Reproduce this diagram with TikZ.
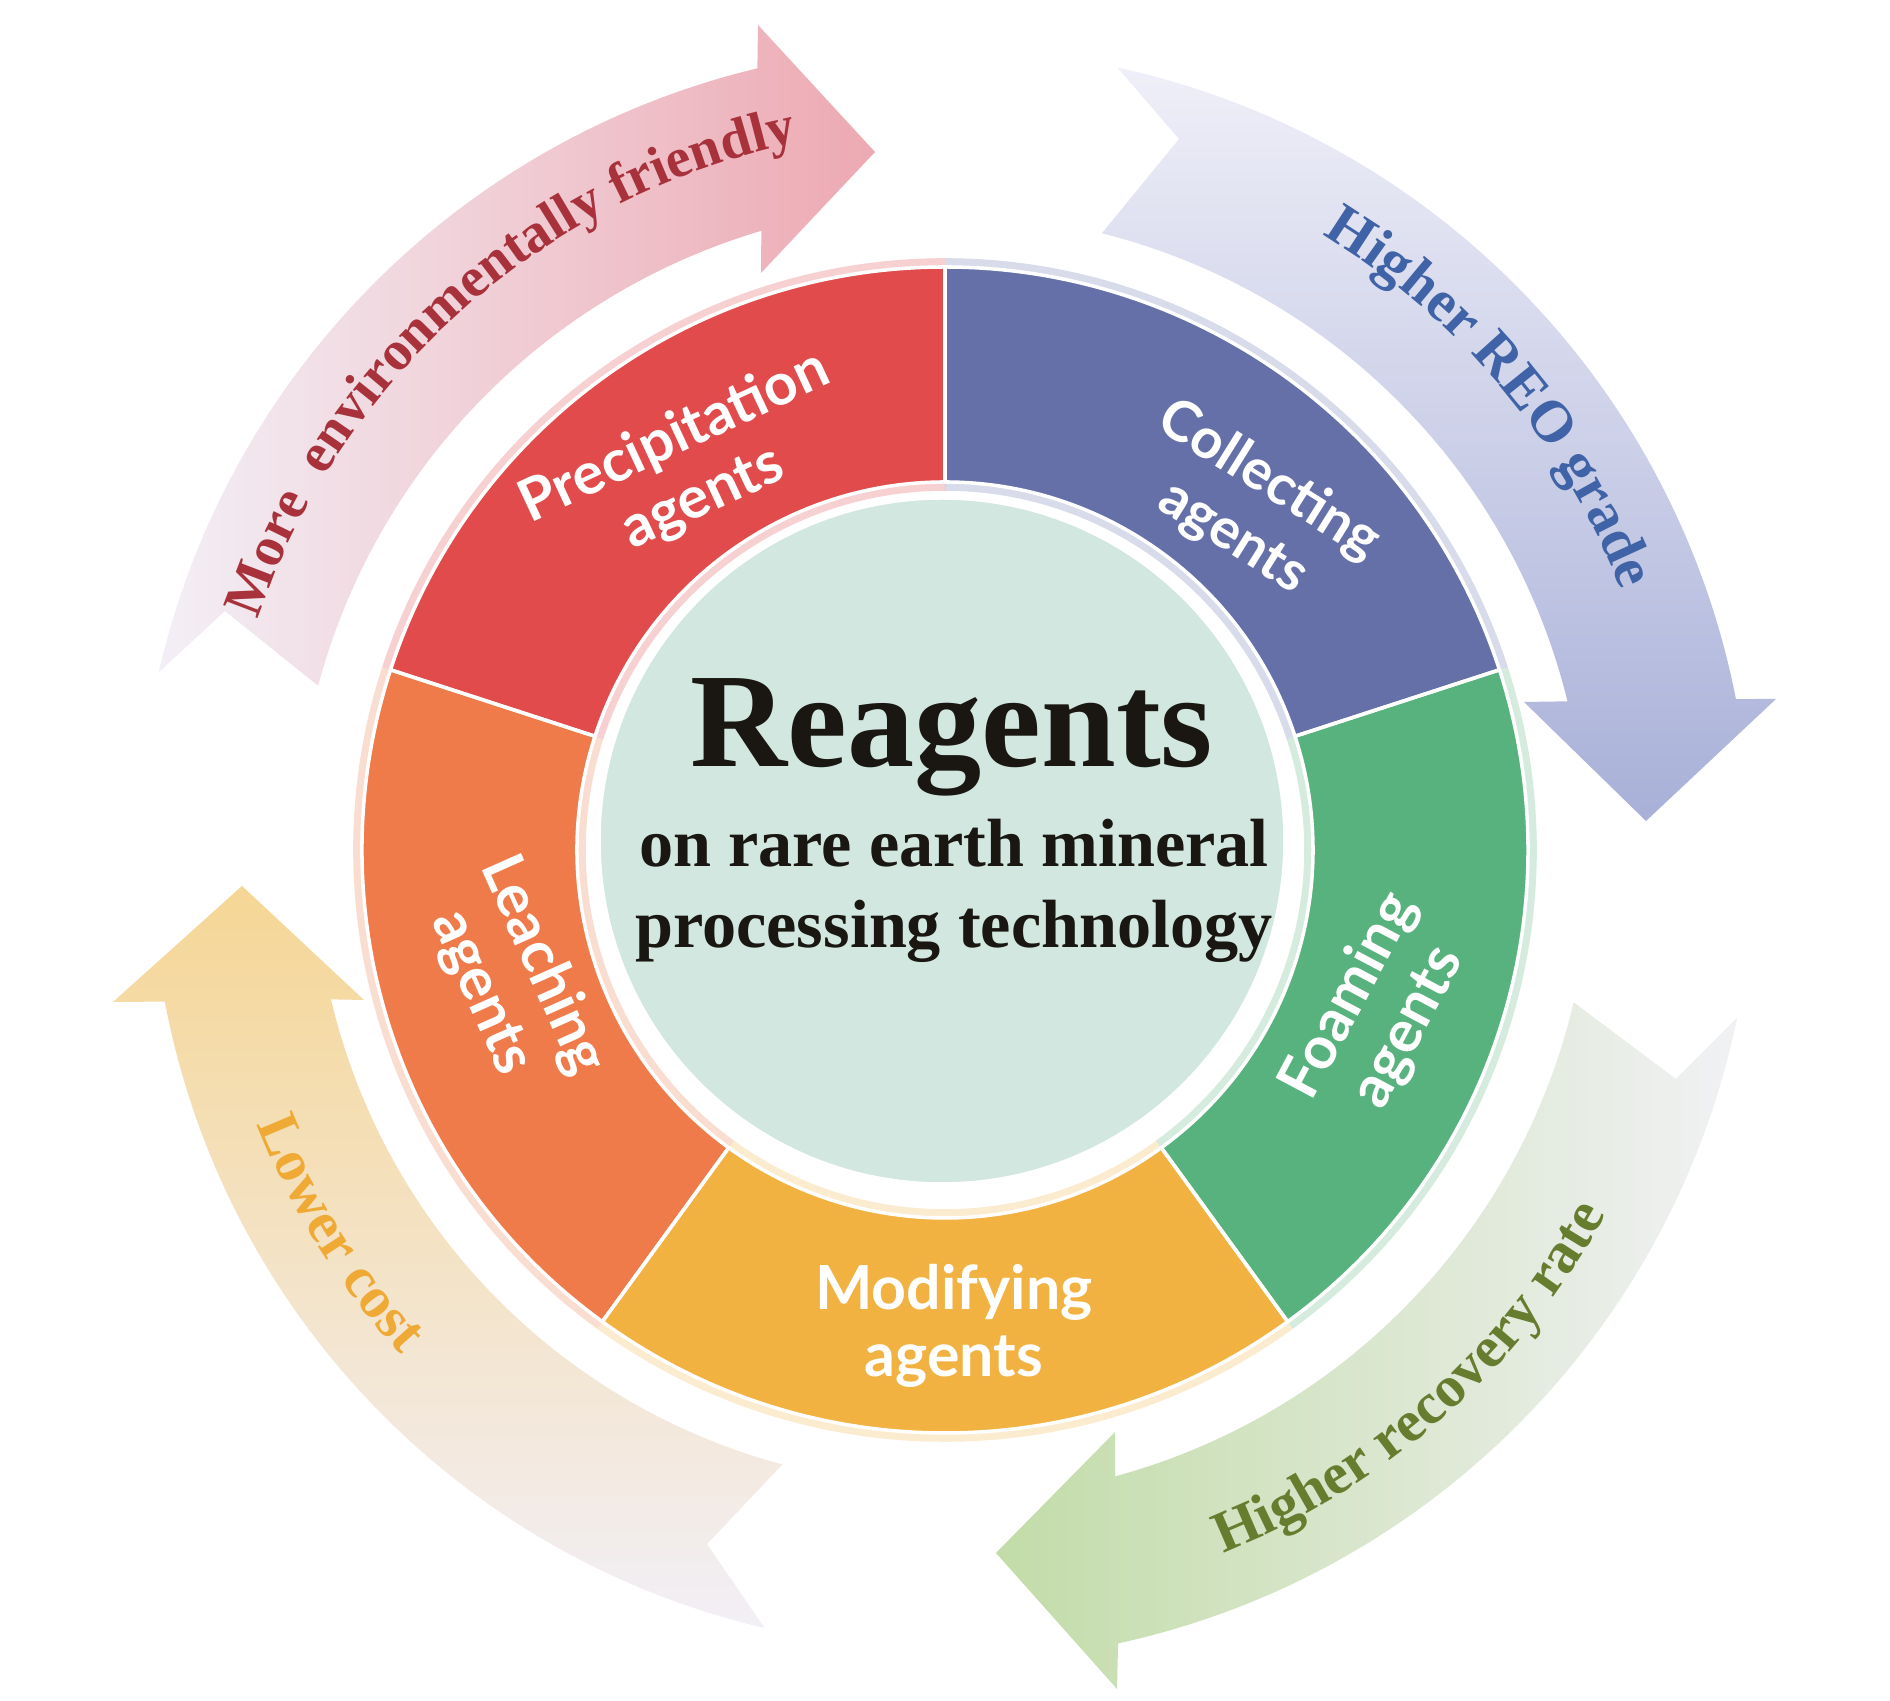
\documentclass[tikz,border=0pt]{standalone}
\usepackage{fontspec}
\setmainfont{Liberation Serif}
\newfontfamily\agentfont{Lato}
\usetikzlibrary{decorations.text}
\definecolor{redW}{HTML}{E14B4B}
\definecolor{blueW}{HTML}{6570A9}
\definecolor{greenW}{HTML}{58B27E}
\definecolor{yellowW}{HTML}{F1B241}
\definecolor{orangeW}{HTML}{EF7A4A}
\definecolor{hubFill}{HTML}{D1E7E0}
\definecolor{hubInk}{HTML}{1A1612}
\definecolor{pinkHead}{HTML}{EDA9B2}
\definecolor{pinkTail}{HTML}{F3EFF6}
\definecolor{pinkText}{HTML}{A8323C}
\definecolor{blueHead}{HTML}{A8B0D8}
\definecolor{blueTail}{HTML}{EFEFF8}
\definecolor{blueText}{HTML}{3F63A6}
\definecolor{greenHead}{HTML}{C2DCA8}
\definecolor{greenTail}{HTML}{F1F1F4}
\definecolor{greenText}{HTML}{667C2E}
\definecolor{yellowHead}{HTML}{F5D695}
\definecolor{yellowTail}{HTML}{F2EFF6}
\definecolor{yellowText}{HTML}{EFA935}
\newcommand{\arrowfont}{\bfseries\fontsize{16.6}{20}\selectfont}
\newcommand{\arrowfontS}{\bfseries\fontsize{15.9}{20}\selectfont}
\pgfkeys{
 /flowArrow/.is family, /flowArrow,
 to/.estore in = \faTO,
 ti/.estore in = \faTI,
 ho/.estore in = \faHO,
 hi/.estore in = \faHI,
 ro/.estore in = \faRO,
 ri/.estore in = \faRI,
 hout/.estore in = \faHout,
 tip/.estore in = \faTip,
 hin/.estore in = \faHin,
 notch/.estore in = \faNotch,
 ch/.estore in = \faCH,
 ct/.estore in = \faCT,
 sa/.estore in = \faSA,
 name/.estore in = \faName,
 default/.style =
  {to=0, ti=0, ho=0, hi=0, ro=800, ri=640, hout={(0,0)}, tip={(0,0)},
   hin={(0,0)}, notch={(0,0)}, ch=black, ct=white, sa=0, name=arrow}
}
\newcommand{\flowArrow}[1][]{
    \pgfkeys{/flowArrow, default, #1}%
    \path \faTip coordinate (\faName_tip) \faNotch coordinate (\faName_notch);
    \shade[top color=\faCH, bottom color=\faCT, shading angle=\faSA]
      (\faTO:\faRO) arc[start angle=\faTO, end angle=\faHO, radius=\faRO]
      -- \faHout -- (\faName_tip) -- \faHin
      -- (\faHI:\faRI) arc[start angle=\faHI, end angle=\faTI, radius=\faRI]
      -- (\faName_notch) -- cycle;
}

\begin{document}
\begin{tikzpicture}[x=0.01cm, y=0.01cm,
  agentLabel/.style={text=white, align=center, inner sep=0pt,
    font=\agentfont\bfseries\fontsize{#1}{19}\selectfont},
  agentLabel/.default=16.8,
  hubText/.style={text=hubInk, anchor=base, inner sep=0pt,
    font=\bfseries\fontsize{19.4}{22}\selectfont},
  arrowLabel/.style={decorate, decoration={text along path, text align=center, text color=#1}}]
    \path[use as bounding box, fill=white] (-946,-847) rectangle (944,854);

    \flowArrow[name=pink, to=167, ti=165, ho=103.5, hi=106.5, ro=808, ri=650,
      hout={(-188,829)}, tip={(-71,702)}, hin={(-185,581)}, notch={(-721,243)},
      ch=pinkHead, ct=pinkTail, sa=-90]
    \flowArrow[name=blue, to=77.7, ti=75.9, ho=11.1, hi=13.8, ro=805, ri=640,
      hout={(830,155)}, tip={(700,33)}, hin={(578,152)}, notch={(233,715)},
      ch=blueHead, ct=blueTail, sa=180]
    \flowArrow[name=green, to=-11.7, ti=-13.3, ho=-77.7, hi=-74.8, ro=808, ri=645,
      hout={(171,-835)}, tip={(50,-699)}, hin={(169,-578)}, notch={(730,-225)},
      ch=greenHead, ct=greenTail, sa=90]
    \flowArrow[name=yellow, to=-103.2, ti=-105, ho=-169.3, hi=-166.7, ro=795, ri=632,
      hout={(-833,-148)}, tip={(-704,-32)}, hin={(-582,-146)}, notch={(-239,-690)},
      ch=yellowHead, ct=yellowTail, sa=0]

    \begin{scope}[shift={(-1,4)}]
    \foreach \a/\c in {90/redW, 18/blueW, -54/greenW, -126/yellowW, 162/orangeW}{
        \draw[\c, opacity=0.25, line width=5pt]
          (\a:583) arc[start angle=\a, end angle=\a+72, radius=583];
        \draw[\c, opacity=0.25, line width=5pt]
          (\a:368) arc[start angle=\a, end angle=\a+72, radius=368];
    }
    \foreach \a/\c in {90/redW, 18/blueW, -54/greenW, -126/yellowW, 162/orangeW}{
        \fill[\c]
          (\a:368) -- (\a:583) arc[start angle=\a, end angle=\a+72, radius=583]
          -- ({\a+72}:368) arc[start angle=\a+72, end angle=\a, radius=368] -- cycle;
    }
    \foreach \a in {90, 18, -54, -126, 162}{
        \draw[white, line width=1pt, line join=round]
          (\a:368) -- (\a:583) arc[start angle=\a, end angle=\a+72, radius=583]
          -- ({\a+72}:368) arc[start angle=\a+72, end angle=\a, radius=368] -- cycle;
    }
    \end{scope}
    \fill[hubFill] (-4,13) circle[radius=343];
    \draw[white, line width=1pt] (-4,13) circle[radius=343];

    \node[hubText, font=\bfseries\fontsize{38.2}{40}\selectfont] (reagents) at (6,87) {Reagents};
    \node[hubText] (onRare) at (8,-13) {on rare earth mineral};
    \node[hubText] (procTech) at (8,-94) {processing technology};

    \node[agentLabel=16.6, rotate=25] (precip) at (-257,386) {Precipitation\\agents};
    \node[agentLabel=15.9, rotate=-32] (collect) at (305,345) {Collecting\\agents};
    \node[agentLabel, rotate=62] (foam) at (433,-158) {Foaming\\agents};
    \node[agentLabel=17.3] (modify) at (8,-472) {Modifying\\agents};
    \node[agentLabel, rotate=-66] (leach) at (-434,-125) {Leaching\\agents};

    \path[arrowLabel=pinkText, decoration={text={|\arrowfontS|More\ \ environmentally friendly}}]
      (171.5:727) arc[start angle=171.5, end angle=91.5, radius=727];
    \path[arrowLabel=blueText, decoration={text={|\arrowfont|Higher REO grade}}]
      (70:725) arc[start angle=70, end angle=10, radius=725];
    \path[arrowLabel=greenText, decoration={text={|\arrowfont|Higher recovery rate}}]
      (-78.5:752) arc[start angle=-78.5, end angle=-18.5, radius=752];
    \path[arrowLabel=yellowText, decoration={text={|\arrowfont|Lower cost}}]
      (-173:740) arc[start angle=-173, end angle=-123, radius=740];
\end{tikzpicture}
\end{document}
